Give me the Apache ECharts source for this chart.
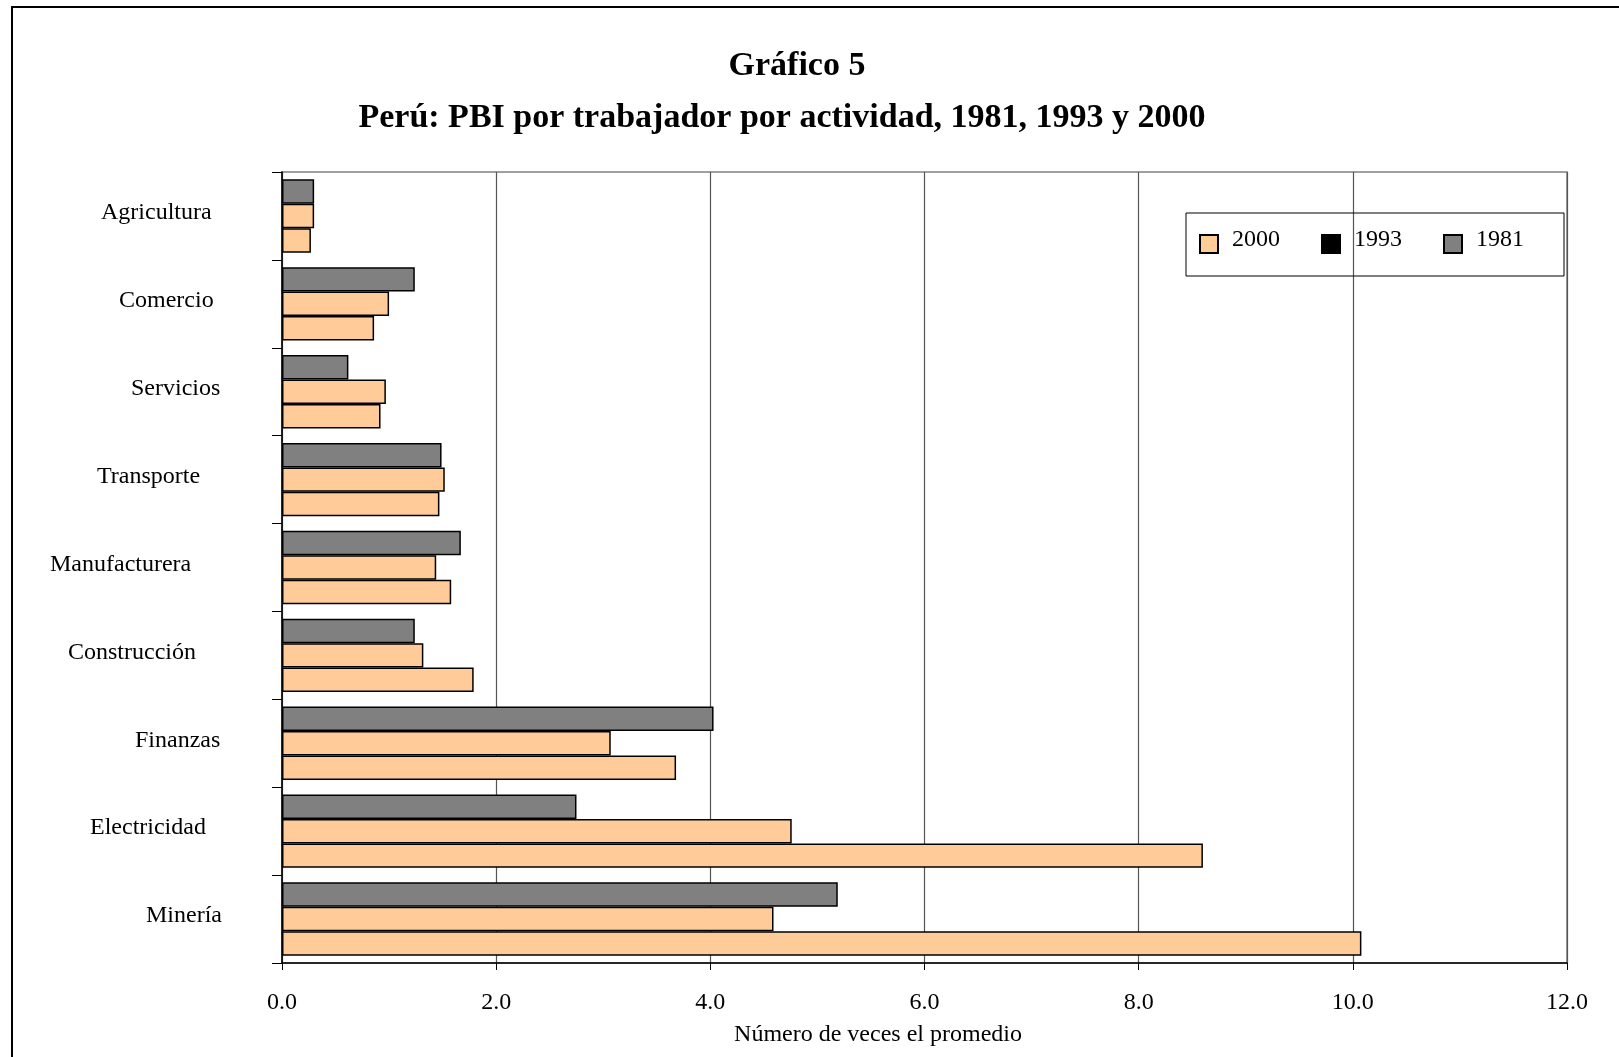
<!DOCTYPE html>
<html>
<head>
<meta charset="utf-8">
<script src="https://cdn.jsdelivr.net/npm/echarts@6/dist/echarts.min.js"></script>
<style>
  html, body { margin: 0; padding: 0; background: #fff; }
  #chart { width: 1619px; height: 1057px; }
</style>
</head>
<body>
<div id="chart"></div>
<script>
// categorias de arriba hacia abajo
const categories = ['Agricultura', 'Comercio', 'Servicios', 'Transporte', 'Manufacturera', 'Construcción', 'Finanzas', 'Electricidad', 'Minería'];
const v1981 = [0.30, 1.24, 0.62, 1.49, 1.67, 1.24, 4.03, 2.75, 5.19];
const v1993 = [0.30, 1.00, 0.97, 1.52, 1.44, 1.32, 3.07, 4.76, 4.59];
const v2000 = [0.27, 0.86, 0.92, 1.47, 1.58, 1.79, 3.68, 8.60, 10.08];
const xTicks = [0, 2, 4, 6, 8, 10, 12];

const font = 'Liberation Serif';
const orange = '#FFCC99';
const gray = '#808080';

// sangria de cada etiqueta (en el original no van alineadas)
const labelIndent = [51, 69, 81, 47, 0, 18, 85, 40, 96];
const labelRich = {};
labelIndent.forEach((p, i) => {
  labelRich['c' + i] = { fontFamily: font, fontSize: 24, color: '#000', padding: [0, 0, 0, p] };
});

let myChart = echarts.init(document.getElementById('chart'));

const barStyle = (color) => ({
  color: color,
  borderColor: '#000',
  borderWidth: 1.5
});

myChart.setOption({
  backgroundColor: '#fff',
  animation: false,
  textStyle: { fontFamily: font, color: '#000' },
  title: [
    {
      text: 'Gráfico 5',
      left: 797, top: 49, padding: 0, textAlign: 'center',
      textStyle: { fontFamily: font, fontSize: 34, fontWeight: 'bold', color: '#000' }
    },
    {
      text: 'Perú: PBI por trabajador por actividad, 1981, 1993 y 2000',
      left: 782, top: 101, padding: 0, textAlign: 'center',
      textStyle: { fontFamily: font, fontSize: 34, fontWeight: 'bold', color: '#000' }
    }
  ],
  graphic: [
    {
      type: 'rect',
      shape: { x: 12, y: 7, width: 1700, height: 1100 },
      style: { fill: 'none', stroke: '#000', lineWidth: 2 },
      silent: true
    }
  ],
  legend: {
    left: 1186, top: 213,
    orient: 'horizontal',
    padding: [15, 40, 22, 13],
    itemGap: 41,
    itemWidth: 18, itemHeight: 18,
    icon: 'rect',
    borderColor: '#000', borderWidth: 1,
    formatter: '{t|{name}}',
    textStyle: {
      fontFamily: font, fontSize: 24, color: '#000', padding: [0, 0, 0, 9],
      rich: { t: { fontFamily: font, fontSize: 24, color: '#000', padding: [0, 0, 8, 0] } }
    },
    data: [
      { name: '2000' },
      { name: '1993', itemStyle: { color: '#000', borderColor: '#000' } },
      { name: '1981' }
    ]
  },
  grid: {
    left: 282, right: 52, top: 172, bottom: 94,
    show: true, borderColor: gray, borderWidth: 1.5,
    containLabel: false,
    outerBoundsMode: 'none'
  },
  xAxis: {
    type: 'value',
    min: 0, max: 12, interval: 2,
    name: 'Número de veces el promedio',
    nameLocation: 'middle',
    nameGap: 60,
    nameTextStyle: { fontFamily: font, fontSize: 24, color: '#000', padding: [0, 93, 0, 0] },
    axisLine: { show: true, lineStyle: { color: '#000', width: 1.5 } },
    axisTick: { show: true, length: 7, lineStyle: { color: '#000' } },
    axisLabel: {
      margin: 28,
      fontFamily: font, fontSize: 24, color: '#000',
      formatter: (v) => xTicks.includes(v) ? v.toFixed(1) : ''
    },
    splitLine: { show: true, lineStyle: { color: '#555', width: 1.2 } }
  },
  yAxis: {
    type: 'category',
    inverse: true,
    data: categories,
    axisLine: { show: true, lineStyle: { color: '#000', width: 1.5 } },
    axisTick: { show: true, length: 10, lineStyle: { color: '#000' } },
    axisLabel: {
      margin: 232, align: 'left',
      padding: [0, 0, 6, 0],
      fontFamily: font, fontSize: 24, color: '#000',
      formatter: (value, index) => '{c' + index + '|' + value + '}',
      rich: labelRich
    },
    splitLine: { show: false }
  },
  series: [
    {
      name: '1981', type: 'bar', data: v1981,
      barGap: '0%', barCategoryGap: '16.5%',
      itemStyle: barStyle(gray)
    },
    {
      name: '1993', type: 'bar', data: v1993,
      barGap: '0%', barCategoryGap: '16.5%',
      itemStyle: barStyle(orange)
    },
    {
      name: '2000', type: 'bar', data: v2000,
      barGap: '0%', barCategoryGap: '16.5%',
      itemStyle: barStyle(orange)
    }
  ]
});
</script>
</body>
</html>
